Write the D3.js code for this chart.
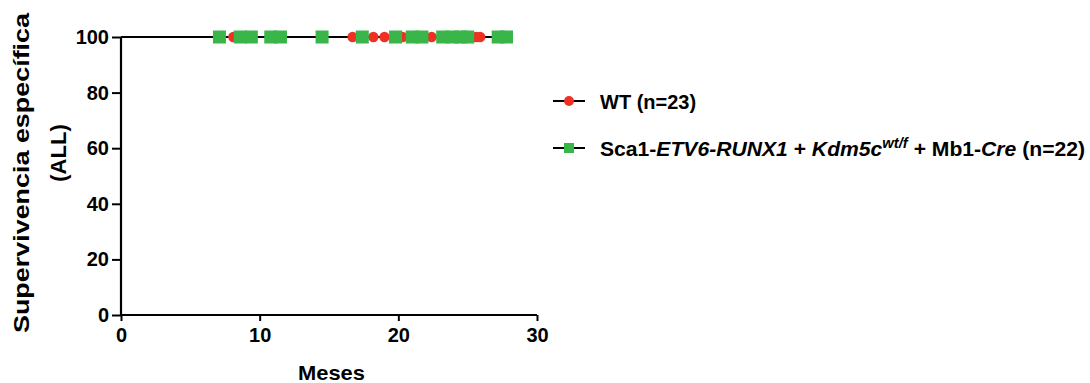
<!DOCTYPE html>
<html><head><meta charset="utf-8">
<script src="https://cdn.jsdelivr.net/npm/d3@7"></script>
<style>body{margin:0;background:#fff;} svg{display:block;font-family:"Liberation Sans",Arial,sans-serif;font-weight:bold;}</style>
</head><body>
<svg id="c" width="1090" height="383"></svg>
<script>
const xTicks = [0, 10, 20, 30];
const yTicks = [0, 20, 40, 60, 80, 100];
const wtEnd = 26;
const wtCensor = [8.1, 16.7, 18.2, 19.0, 20.3, 22.4, 25.6, 25.9];
const koEnd = 28;
const koCensor = [7.1, 8.6, 9.4, 10.8, 11.5, 14.5, 17.4, 19.8, 21.0, 21.7, 23.2, 23.9, 24.5, 25.0, 27.2, 27.8];
const survival = 100;

const svg = d3.select("#c");
const x = d3.scaleLinear().domain([0, 30]).range([121, 537]);
const y = d3.scaleLinear().domain([0, 100]).range([315, 37]);

// lines
const line = d3.line().x(d => x(d[0])).y(d => y(d[1]));
svg.append("path").attr("d", line([[0, survival], [koEnd, survival]])).attr("stroke", "#000").attr("stroke-width", 2).attr("fill", "none");
svg.append("path").attr("d", line([[0, survival], [wtEnd, survival]])).attr("stroke", "#000").attr("stroke-width", 2).attr("fill", "none");

// axes
const xa = svg.append("g").attr("transform", `translate(0,${y(0)})`).call(d3.axisBottom(x).tickValues(xTicks).tickSize(6).tickPadding(7));
const ya = svg.append("g").attr("transform", `translate(${x(0)},0)`).call(d3.axisLeft(y).tickValues(yTicks).tickSize(9).tickPadding(3));
[xa, ya].forEach(g => {
  g.select(".domain").attr("stroke", "#000").attr("stroke-width", 2.2);
  g.selectAll(".tick line").attr("stroke", "#000").attr("stroke-width", 2);
  g.selectAll(".tick text").attr("font-size", 20).attr("font-weight", "bold").attr("fill", "#000").attr("font-family", "Liberation Sans, Arial, sans-serif");
});
xa.select(".domain").attr("d", `M${x(0)},0H${x(30)}`);
ya.select(".domain").attr("d", `M0,${y(0)}V${y(100)}`);

// markers
svg.append("g").selectAll("circle").data(wtCensor).join("circle")
  .attr("cx", d => x(d)).attr("cy", y(survival)).attr("r", 5.2).attr("fill", "#ee3124");
svg.append("g").selectAll("rect").data(koCensor).join("rect")
  .attr("x", d => x(d) - 6.5).attr("y", y(survival) - 6.5).attr("width", 13).attr("height", 13).attr("fill", "#39b54a");

// axis titles
svg.append("text").attr("x", 331.5).attr("y", 380).attr("text-anchor", "middle").attr("font-size", 21)
  .attr("textLength", 67).attr("lengthAdjust", "spacingAndGlyphs").text("Meses");
svg.append("text").attr("transform", "translate(29,173) rotate(-90)").attr("text-anchor", "middle").attr("font-size", 22)
  .attr("textLength", 320).attr("lengthAdjust", "spacingAndGlyphs").text("Supervivencia específica");
svg.append("text").attr("transform", "translate(66,153) rotate(-90)").attr("text-anchor", "middle").attr("font-size", 22)
  .text("(ALL)");

// legend
const lg = svg.append("g");
lg.append("line").attr("x1", 553).attr("x2", 585).attr("y1", 101).attr("y2", 101).attr("stroke", "#000").attr("stroke-width", 2);
lg.append("circle").attr("cx", 569).attr("cy", 101).attr("r", 5).attr("fill", "#ee3124");
lg.append("text").attr("x", 600).attr("y", 109).attr("font-size", 20).text("WT (n=23)");
lg.append("line").attr("x1", 553).attr("x2", 585).attr("y1", 148).attr("y2", 148).attr("stroke", "#000").attr("stroke-width", 2);
lg.append("rect").attr("x", 564).attr("y", 143).attr("width", 10).attr("height", 10).attr("fill", "#39b54a");
const t2 = lg.append("text").attr("x", 600).attr("y", 156).attr("font-size", 20)
  .attr("textLength", 485).attr("lengthAdjust", "spacingAndGlyphs");
t2.append("tspan").text("Sca1-");
t2.append("tspan").attr("font-style", "italic").text("ETV6-RUNX1");
t2.append("tspan").text(" + ");
t2.append("tspan").attr("font-style", "italic").text("Kdm5c");
t2.append("tspan").attr("font-style", "italic").attr("font-size", 14).attr("dy", -8).text("wt/f");
t2.append("tspan").attr("dy", 8).text(" + Mb1-");
t2.append("tspan").attr("font-style", "italic").text("Cre");
t2.append("tspan").text(" (n=22)");
</script>
</body></html>
